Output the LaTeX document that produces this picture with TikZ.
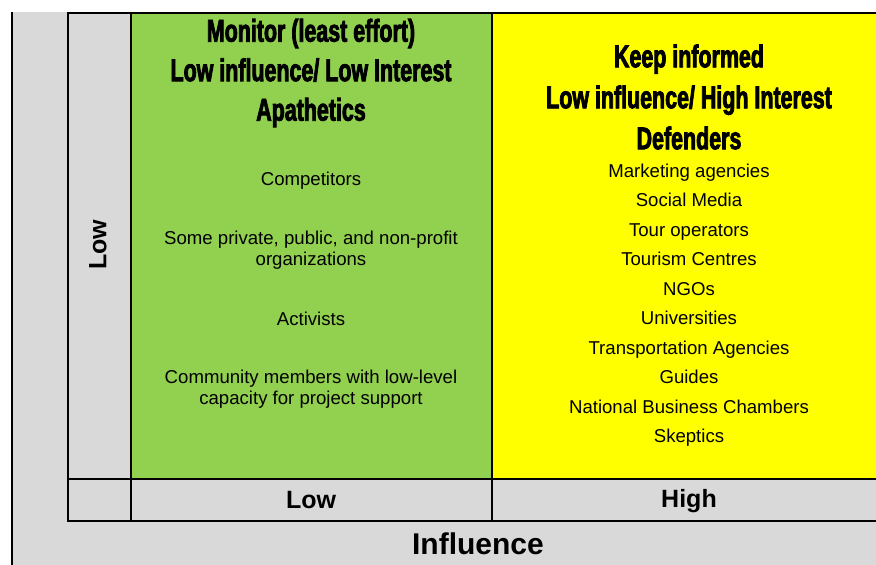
\documentclass[tikz,border=0pt]{standalone}
\usepackage{fontspec}
\setmainfont{Liberation Sans}
\newfontfamily\headfont[FakeStretch=0.68,FakeBold=2.5]{Liberation Sans Bold}
\usetikzlibrary{positioning}

\definecolor{cellgreen}{HTML}{92D050}
\definecolor{cellyellow}{HTML}{FFFF00}
\definecolor{panelgray}{HTML}{D9D9D9}

\tikzset{
  rule/.style={line width=1.6pt},
  heading/.style={align=center, font=\headfont\fontsize{31.5}{39.5}\selectfont},
  entry/.style={align=center, font=\fontsize{18.6}{21}\selectfont},
  axislabel/.style={font=\bfseries\fontsize{25}{28}\selectfont}
}

\begin{document}
\begin{tikzpicture}[x=1pt,y=-1pt]
  \useasboundingbox (0,0) rectangle (876,565);
  \clip (0,0) rectangle (876,565);

  % The gray panel
  \fill[panelgray] (12,12) rectangle (900,600);
  \draw[rule] (12,12) -- (12,600);

  % The two cells
  \fill[cellgreen] (131,13) rectangle (492,479);
  \fill[cellyellow] (492,13) rectangle (886,479);

  % The grid
  \draw[rule] (68,13) rectangle (886,521);
  \draw[rule] (131,13) -- (131,521);
  \draw[rule] (492,13) -- (492,521);
  \draw[rule] (68,479) -- (886,479);

  % Low influence / low interest
  \node[heading] (monitor) at (311,73)
    {Monitor (least effort)\\Low influence/ Low Interest\\Apathetics};
  \node[entry] (competitors) at (311,181) {Competitors};
  \node[entry] (organizations) at (311,250.5)
    {Some private, public, and non-profit\\organizations};
  \node[entry] (activists) at (311,319) {Activists};
  \node[entry] (community) at (311,389.5)
    {Community members with low-level\\capacity for project support};

  % Low influence / high interest
  \node[heading, font=\headfont\fontsize{31.5}{41}\selectfont] (informed) at (689,97)
    {Keep informed\\Low influence/ High Interest\\Defenders};
  \node[entry, font=\fontsize{18.6}{29.5}\selectfont] (defenders) at (689,305)
    {Marketing agencies\\Social Media\\Tour operators\\Tourism Centres\\NGOs\\
     Universities\\Transportation Agencies\\Guides\\National Business Chambers\\Skeptics};

  % The axes
  \node[axislabel, rotate=90] (interest) at (98,245) {Low};
  \node[axislabel] (lowinf) at (311,500) {Low};
  \node[axislabel] (highinf) at (689,501) {High};
  \node[font=\bfseries\fontsize{30}{34}\selectfont] (influence) at (478,544) {Influence};
\end{tikzpicture}
\end{document}
